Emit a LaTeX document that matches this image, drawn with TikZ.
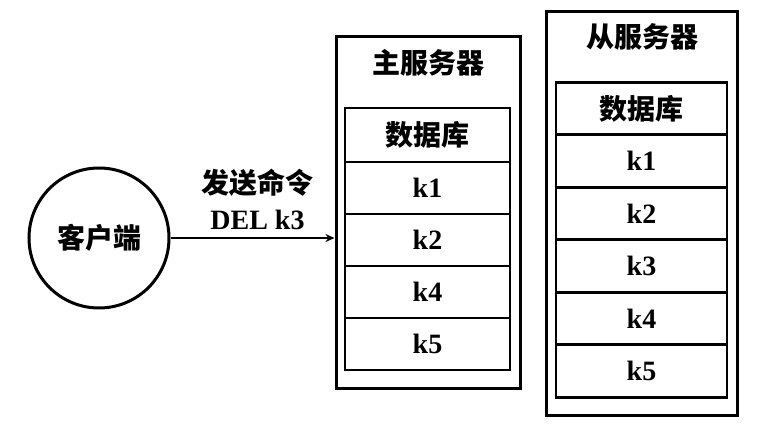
\documentclass[tikz,border=0pt]{standalone}
\usepackage{fontspec}
\setmainfont{Liberation Serif}
\newfontfamily\cjk{Noto Sans CJK SC}
\usetikzlibrary{arrows.meta}

\begin{document}
\begin{tikzpicture}[x=1pt,y=-1pt,
    every node/.style={font=\fontsize{28}{32}\selectfont\bfseries},
    cell/.style={draw,line width=2.6pt,inner sep=0pt},
    mcell/.style={cell,minimum width=165pt,minimum height=52pt},
    scell/.style={cell,minimum width=171pt,minimum height=52.5pt},
    server/.style={draw,line width=3pt,inner sep=0pt}]
    \useasboundingbox (0,0) rectangle (782,430);
    % client ====================================================
    \node[circle,draw,line width=3pt,minimum size=140pt,inner sep=0pt] (Client) at (99,238) {\cjk 客户端};
    % master ====================================================
    \node[server,minimum width=184pt,minimum height=351pt] (Master) at (428,212.5) {};
    \node         (MT)        at (428,63)    {\cjk 主服务器};
    \node[mcell,minimum height=54pt] (M0) at (427.5,135) {\cjk 数据库};
    \node[mcell]  (M1)        at (427.5,188) {k1};
    \node[mcell]  (M2)        at (427.5,240) {k2};
    \node[mcell]  (M4)        at (427.5,292) {k4};
    \node[mcell]  (M5)        at (427.5,344) {k5};
    % slave =====================================================
    \node[server,minimum width=191pt,minimum height=403pt] (Slave) at (641.5,213.5) {};
    \node         (ST)        at (642,37)    {\cjk 从服务器};
    \node[scell]  (S0)        at (641.5,108.5) {\cjk 数据库};
    \node[scell]  (S1)        at (641.5,161)   {k1};
    \node[scell]  (S2)        at (641.5,213.5) {k2};
    \node[scell]  (S3)        at (641.5,266)   {k3};
    \node[scell]  (S4)        at (641.5,318.5) {k4};
    \node[scell]  (S5)        at (641.5,371)   {k5};
    % command ===================================================
    \draw[line width=1.8pt,-{Stealth[length=9pt,width=8pt]}] (Client.east) -- (Client.east -| Master.west)
        node[midway,above=4pt,xshift=5pt,align=center] {\cjk 发送命令\\[4pt]DEL k3};
\end{tikzpicture}
\end{document}
